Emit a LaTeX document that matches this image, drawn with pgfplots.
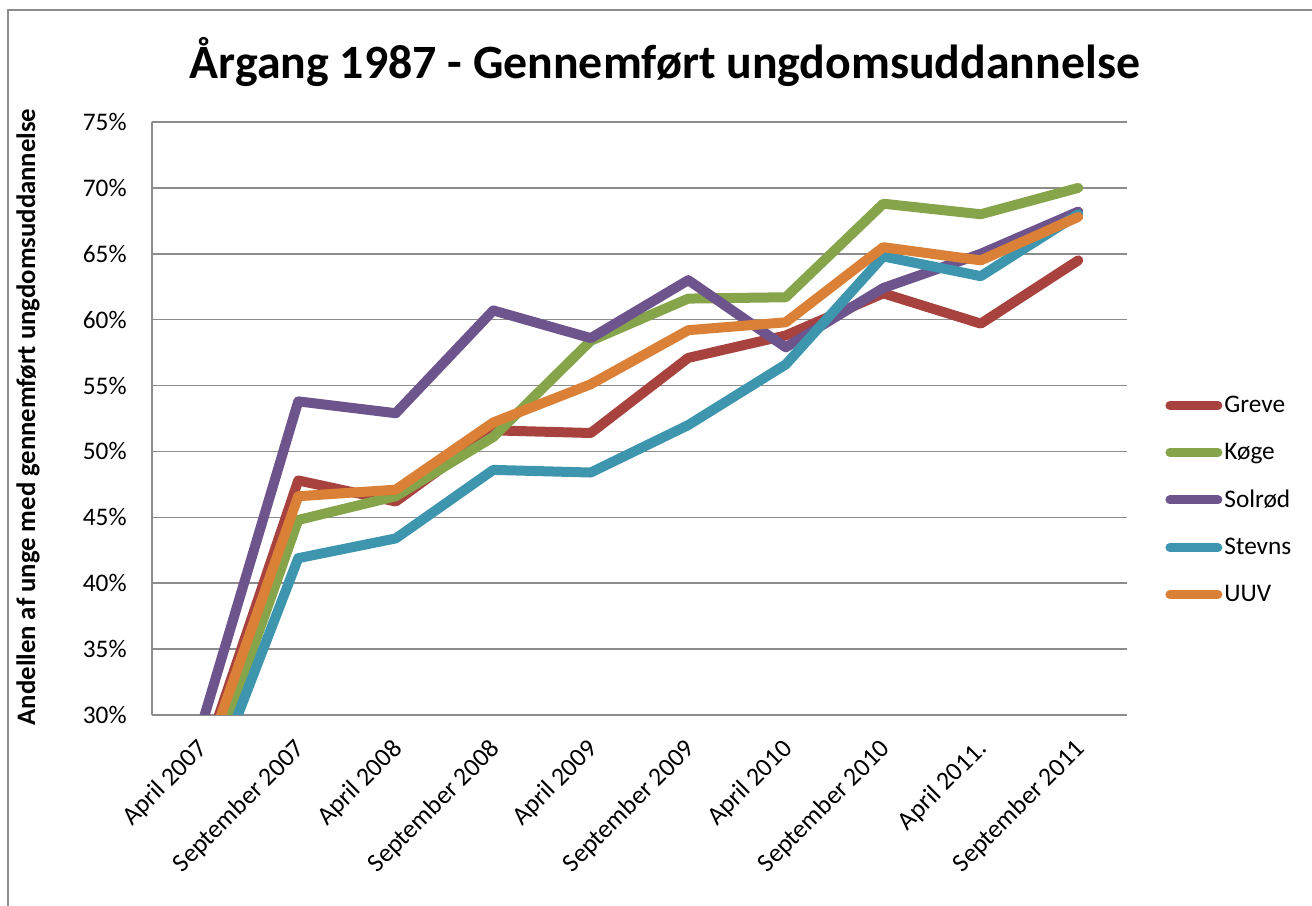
\documentclass[border=0pt]{standalone}
\usepackage{fontspec}
\setmainfont{Carlito}
\usepackage{pgfplots}
\pgfplotsset{compat=1.18}
\usepackage{pgfplotstable}
\definecolor{cGreve}{HTML}{A8423F}
\definecolor{cKoge}{HTML}{86A44A}
\definecolor{cSolrod}{HTML}{6E548D}
\definecolor{cStevns}{HTML}{3D96AE}
\definecolor{cUUV}{HTML}{DA8137}
\definecolor{gridgray}{HTML}{8C8C8C}
\pgfplotstableread{
x Greve Koge Solrod Stevns UUV
0 25.9 23.8 29.0 22.7 25.6
1 47.8 44.8 53.8 41.9 46.6
2 46.2 46.6 52.9 43.4 47.1
3 51.6 51.1 60.7 48.6 52.2
4 51.4 58.4 58.6 48.4 55.1
5 57.1 61.6 63.0 52.0 59.2
6 58.8 61.7 57.9 56.6 59.8
7 62.0 68.8 62.4 64.8 65.5
8 59.7 68.0 65.0 63.3 64.5
9 64.5 70.0 68.2 68.0 67.8
}\data
\begin{document}
\begin{tikzpicture}
\useasboundingbox (0,0) rectangle (656bp,453bp);
\draw[color=gridgray, line width=0.75bp] (4bp,0bp) -- (4bp,448bp) -- (656bp,448bp);
\node[font=\bfseries\fontsize{24}{28}\selectfont] at (332.5bp,422bp) {Årgang 1987 - Gennemført ungdomsuddannelse};
\node[rotate=90, font=\bfseries\fontsize{13.4}{15}\selectfont] at (14bp,244.5bp) {Andellen af unge med gennemført ungdomsuddannelse};
\begin{axis}[
  at={(76bp,95.5bp)}, anchor=south west,
  scale only axis, width=487.5bp, height=296.5bp,
  xmin=-0.5, xmax=9.5, ymin=30, ymax=75,
  axis x line*=bottom, axis y line*=left,
  axis line style={-, draw=gridgray, line width=0.75bp},
  ymajorgrids, major grid style={draw=gridgray, line width=0.75bp},
  major tick length=0pt,
  xtick={0,...,9},
  xticklabels={April 2007, September 2007, April 2008, September 2008, April 2009, September 2009, April 2010, September 2010, April 2011., September 2011},
  ytick={30,35,...,75},
  yticklabels={30\%,35\%,40\%,45\%,50\%,55\%,60\%,65\%,70\%,75\%},
  ticklabel style={font=\fontsize{12.7}{15}\selectfont},
  yticklabel style={inner sep=0pt, xshift=-12.5bp},
  xticklabel style={xshift=1.5bp, yshift=-15bp, rotate=45, anchor=east, inner sep=0pt, font=\fontsize{13}{15}\selectfont},
  legend style={at={(1,0.3626)}, anchor=west, xshift=19bp, draw=none, fill=none,
    inner sep=0pt, row sep=11.8bp, font=\fontsize{12.7}{15}\selectfont,
    nodes={inner sep=1bp}},
  legend cell align=left,
  legend image code/.code={\draw[#1, line width=4.5bp, line cap=round] (2.25bp,0bp) -- (26.25bp,0bp);},
  every axis plot/.append style={line width=5bp, line join=round, line cap=round, mark=none},
]
\addplot[cGreve] table[x=x, y=Greve] {\data};
\addlegendentry{Greve}
\addplot[cKoge] table[x=x, y=Koge] {\data};
\addlegendentry{Køge}
\addplot[cSolrod] table[x=x, y=Solrod] {\data};
\addlegendentry{Solrød}
\addplot[cStevns] table[x=x, y=Stevns] {\data};
\addlegendentry{Stevns}
\addplot[cUUV] table[x=x, y=UUV] {\data};
\addlegendentry{UUV}
\end{axis}
\end{tikzpicture}
\end{document}
